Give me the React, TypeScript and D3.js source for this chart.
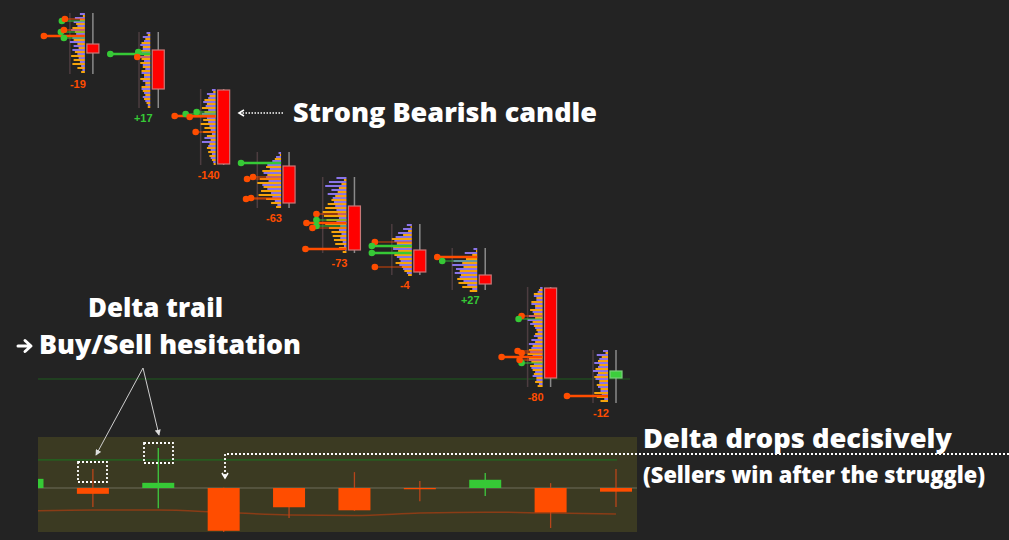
import React from 'react';
import * as d3 from 'd3';

// ---------- DATA ----------
// price candles (bar index 1..9)
const barIdx = [1, 2, 3, 4, 5, 6, 7, 8, 9];
const opens = [4248, 4245, 4225, 4187, 4167, 4145, 4132.5, 4126, 4081];
const highs = [4263.5, 4254, 4225.5, 4194, 4181.5, 4158, 4146, 4126.5, 4095];
const lows = [4233, 4216, 4187.5, 4166, 4143.5, 4132.5, 4125, 4076.5, 4068.5];
const closes = [4243.5, 4225.5, 4188, 4168.5, 4145, 4134, 4128, 4081, 4084.5];
const barDeltas = [-19, 17, -140, -63, -73, -4, 27, -80, -12];

// volume profiles, rows from the high down, [buy, sell]
const profile1 = [[20,8],[40,20],[45,35],[30,50],[55,40],[35,60],[50,45],[60,30],[45,25],[50,40],[30,55],[25,45],[20,50],[15,30],[10,15]];
const profile2 = [[15,10],[30,20],[25,35],[40,30],[30,45],[35,25],[45,35],[25,40],[30,30],[20,35],[35,25],[25,40],[30,20],[20,35],[35,30],[25,20],[30,25],[20,15],[10,10]];
const profile3 = [[15,10],[35,25],[30,45],[50,35],[40,55],[30,45],[55,40],[35,50],[30,60],[25,45],[20,50],[15,35],[45,20],[55,25],[30,35],[20,30],[15,25],[20,15],[10,8]];
const profile4 = [[10,5],[20,25],[35,45],[55,60],[45,75],[70,55],[60,85],[50,95],[75,70],[55,80],[40,90],[35,60],[25,40],[15,20]];
const profile5 = [[40,10],[70,20],[85,30],[60,35],[75,45],[55,60],[50,75],[45,85],[40,95],[35,90],[30,80],[40,85],[25,70],[30,60],[20,55],[25,50],[15,45],[10,30],[5,15]];
const profile6 = [[20,5],[35,15],[55,35],[65,80],[70,60],[60,75],[75,55],[55,70],[60,50],[45,65],[50,40],[35,30],[20,15]];
const profile7 = [[15,5],[50,20],[80,45],[95,60],[100,55],[85,70],[90,65],[70,80],[55,75],[40,60],[20,30]];
const profile8 = [[10,15],[20,35],[35,25],[25,45],[45,30],[30,50],[40,35],[55,30],[60,40],[50,35],[30,25],[20,30],[35,20],[45,30],[55,40],[45,55],[50,60],[40,55],[55,45],[35,50],[45,40],[30,35],[40,25],[25,30],[15,20]];
const profile9 = [[20,10],[45,25],[35,40],[55,35],[40,50],[60,40],[45,55],[50,35],[35,45],[40,30],[30,55],[25,45],[15,30]];
const profiles = [profile1, profile2, profile3, profile4, profile5, profile6, profile7, profile8, profile9];

// large trades: [bar, price, size, side]
const bigTrades: [number, number, number, string][] = [
  [1, 4252, 164, 's'], [1, 4259.5, 92, 'b'], [1, 4260.5, 80, 's'], [1, 4254, 96, 'b'], [1, 4255, 84, 's'], [1, 4251, 84, 'b'],
  [2, 4243, 160, 'b'], [2, 4244, 48, 'b'], [2, 4241.5, 52, 's'],
  [3, 4212, 164, 's'], [3, 4213, 120, 'b'], [3, 4214, 76, 'b'], [3, 4211.5, 104, 's'], [3, 4204, 80, 's'],
  [4, 4188.5, 160, 'b'], [4, 4180.5, 136, 's'], [4, 4181.5, 112, 's'], [4, 4170.5, 140, 's'], [4, 4171, 120, 's'],
  [5, 4145.5, 164, 's'], [5, 4163, 120, 's'], [5, 4158.5, 160, 's'], [5, 4160, 120, 'b'], [5, 4157, 120, 'b'], [5, 4156, 136, 's'],
  [6, 4149, 148, 's'], [6, 4147, 160, 'b'], [6, 4143.5, 160, 'b'], [6, 4136.5, 148, 's'],
  [7, 4141.5, 160, 's'], [7, 4139.5, 140, 'b'],
  [8, 4112, 84, 's'], [8, 4110.5, 96, 'b'], [8, 4091.5, 164, 's'], [8, 4094.5, 100, 's'], [8, 4093.5, 84, 's'], [8, 4088.5, 84, 'b'], [8, 4090, 92, 's'],
  [9, 4072, 164, 's'],
];

const supportPrice = 4080.5;

// delta pane (bar index 0..9)
const deltaIdx = [0, 1, 2, 3, 4, 5, 6, 7, 8, 9];
const deltaClose = [30, -19, 17, -140, -63, -73, -4, 27, -80, -12];
const deltaHigh = [30, 62, 131, 2, 0, 52, 23, 49, 16, 62];
const deltaLow = [0, -62, -66, -147, -98, -75, -43, -26, -131, -62];
const deltaMA = [-75, -72, -72, -80, -88, -90, -82, -79, -82, -85];
const deltaThreshold = 92;

// ---------- COLORS ----------
const BG = '#232323';
const PURPLE = '#8a74e8';
const ORANGE = '#f5a40c';
const SELL = '#ff4d00';
const BUY = '#36c936';
const FONT = "'Open Sans', 'Noto Sans', sans-serif";

export default function App() {
  const W = 1009, H = 540;
  const x = d3.scaleLinear().domain([0, 9]).range([27.5, 616]);
  const y = d3.scaleLinear().domain([4270, 4000]).range([0, 540]);
  const vol = d3.scaleLinear().domain([0, 100]).range([0, 25]);
  const pane = { x0: 38, x1: 637, y0: 437, y1: 532 };
  const yd = d3.scaleLinear().domain([167, -144]).range([pane.y0, pane.y1]);

  const maLine = d3.line<number>().x((_, i) => x(deltaIdx[i])).y((d) => yd(d)).curve(d3.curveMonotoneX);

  const bodyW = 12;
  const dW = 32;

  return (
    <svg width={W} height={H} style={{ position: 'fixed', left: 0, top: 0, background: BG }}>
      <defs>
        <marker id="chev" viewBox="0 0 8 8" refX="6" refY="4" markerWidth="8" markerHeight="8" orient="auto" markerUnits="userSpaceOnUse">
          <path d="M1,1 L6,4 L1,7" fill="none" stroke="#fff" strokeWidth="1.6" />
        </marker>
        <marker id="tri" viewBox="0 0 8 8" refX="7" refY="4" markerWidth="6" markerHeight="6" orient="auto" markerUnits="userSpaceOnUse">
          <path d="M0,0 L8,4 L0,8 Z" fill="#ddd" />
        </marker>
        <clipPath id="paneClip">
          <rect x={pane.x0} y={pane.y0} width={pane.x1 - pane.x0} height={pane.y1 - pane.y0} />
        </clipPath>
      </defs>
      <rect x={0} y={0} width={W} height={H} fill={BG} />

      {/* support line */}
      <line x1={38} x2={630} y1={y(supportPrice)} y2={y(supportPrice)} stroke="#1f5c1f" strokeWidth={1.2} />

      {/* price candles with profiles */}
      {barIdx.map((b, i) => {
        const cx = x(b);
        const edge = cx - 8;
        const rows = profiles[i];
        const maxV = d3.max(rows, (r) => Math.max(r[0], r[1])) as number;
        const up = closes[i] >= opens[i];
        const trades = bigTrades.filter((t) => t[0] === b);
        const d = barDeltas[i];
        return (
          <g key={b}>
            <line x1={edge - vol(maxV)} x2={edge - vol(maxV)} y1={y(highs[i])} y2={y(lows[i])} stroke="#4d3d40" strokeWidth={1.5} />
            {rows.map((r, j) => {
              const ty = y(highs[i] - 2 * j);
              return (
                <g key={j}>
                  <rect x={edge - vol(r[0])} y={ty} width={vol(r[0])} height={2} fill={PURPLE} />
                  <rect x={edge - vol(r[1])} y={ty + 2} width={vol(r[1])} height={2} fill={ORANGE} />
                </g>
              );
            })}
            {trades.map((t, k) => (
              <line key={'l' + k} x1={edge - vol(t[2])} x2={edge} y1={y(t[1])} y2={y(t[1])} stroke={t[3] === 's' ? SELL : BUY} strokeWidth={t[2] >= 160 ? 2.6 : 1.2} opacity={t[2] >= 160 ? 1 : 0.8} />
            ))}
            {trades.map((t, k) => (
              <circle key={'c' + k} cx={edge - vol(t[2])} cy={y(t[1])} r={3.3} fill={t[3] === 's' ? SELL : BUY} />
            ))}
            <line x1={cx} x2={cx} y1={y(highs[i])} y2={y(lows[i])} stroke="#8a8a8a" strokeWidth={1.5} />
            <rect
              x={cx - bodyW / 2}
              y={y(Math.max(opens[i], closes[i]))}
              width={bodyW}
              height={Math.max(1, y(Math.min(opens[i], closes[i])) - y(Math.max(opens[i], closes[i])))}
              fill={up ? '#3ccf3c' : '#ff0000'}
              stroke={up ? '#7ad07a' : '#c87878'}
              strokeWidth={1.2}
            />
            <text x={edge - 7} y={y(lows[i]) + 11} textAnchor="middle" dominantBaseline="middle" fontFamily="Arial, 'Liberation Sans', sans-serif" fontWeight={700} fontSize={11} fill={d > 0 ? BUY : SELL}>
              {d > 0 ? '+' + d : String(d)}
            </text>
          </g>
        );
      })}

      {/* delta pane */}
      <rect x={pane.x0} y={pane.y0} width={pane.x1 - pane.x0} height={pane.y1 - pane.y0} fill="#3b3a22" />
      <g clipPath="url(#paneClip)">
        <line x1={pane.x0} x2={pane.x1} y1={yd(0)} y2={yd(0)} stroke="#6e6c5a" strokeWidth={1} />
        <line x1={pane.x0} x2={617} y1={yd(deltaThreshold)} y2={yd(deltaThreshold)} stroke="#1f6a1f" strokeWidth={1.2} />
        <path d={maLine(deltaMA) || ''} fill="none" stroke="#8a3c16" strokeWidth={1.5} />
        {deltaIdx.map((b, i) => {
          const cx = x(b);
          const up = deltaClose[i] >= 0;
          const col = up ? BUY : SELL;
          return (
            <g key={b}>
              <line x1={cx} x2={cx} y1={yd(deltaHigh[i])} y2={yd(deltaLow[i])} stroke={up ? '#3fc83f' : '#b8451a'} strokeWidth={1.3} />
              <rect x={cx - dW / 2} y={yd(Math.max(0, deltaClose[i]))} width={dW} height={Math.max(1, Math.abs(yd(deltaClose[i]) - yd(0)))} fill={col} />
            </g>
          );
        })}
      </g>

      {/* annotations */}
      <line x1={283} x2={239} y1={113} y2={113} stroke="#fff" strokeWidth={1.6} strokeDasharray="1.5,1.5" markerEnd="url(#chev)" />
      <text x={293} y={122} fontFamily={FONT} fontWeight={800} fontSize={26} fill="#fff" textLength={304} lengthAdjust="spacingAndGlyphs">Strong Bearish candle</text>

      <text x={88} y={317} fontFamily={FONT} fontWeight={800} fontSize={26} fill="#fff" textLength={135} lengthAdjust="spacingAndGlyphs">Delta trail</text>
      <path d="M18,346 L30,346 M25,340.5 L31,346 L25,351.5" fill="none" stroke="#fff" strokeWidth={3} strokeLinecap="round" strokeLinejoin="round" />
      <text x={39} y={354} fontFamily={FONT} fontWeight={800} fontSize={26} fill="#fff" textLength={262} lengthAdjust="spacingAndGlyphs">Buy/Sell hesitation</text>

      <line x1={143} y1={368} x2={96} y2={455} stroke="#cfcfcf" strokeWidth={1} markerEnd="url(#tri)" />
      <line x1={143} y1={368} x2={159} y2={435} stroke="#cfcfcf" strokeWidth={1} markerEnd="url(#tri)" />
      <rect x={78} y={462} width={29} height={20} fill="none" stroke="#fff" strokeWidth={1.8} strokeDasharray="2,2" />
      <rect x={144} y={443} width={29} height={20} fill="none" stroke="#fff" strokeWidth={1.8} strokeDasharray="2,2" />

      <polyline points={`1009,454 225,454 225,478`} fill="none" stroke="#fff" strokeWidth={1.8} strokeDasharray="2,2" markerEnd="url(#chev)" />
      <text x={643} y={448} fontFamily={FONT} fontWeight={800} fontSize={27} fill="#fff" textLength={309} lengthAdjust="spacingAndGlyphs">Delta drops decisively</text>
      <text x={643} y={483} fontFamily={FONT} fontWeight={800} fontSize={22} fill="#fff" textLength={342} lengthAdjust="spacingAndGlyphs">(Sellers win after the struggle)</text>
    </svg>
  );
}
